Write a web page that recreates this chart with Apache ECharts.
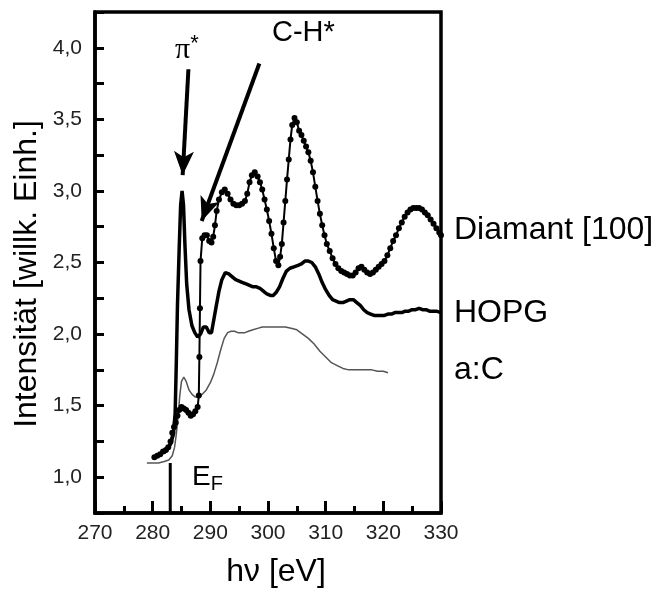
<!DOCTYPE html>
<html><head><meta charset="utf-8">
<script src="https://cdn.jsdelivr.net/npm/echarts@6/dist/echarts.min.js"></script>
<style>html,body{margin:0;padding:0;background:#fff}#c{width:658px;height:589px}</style>
</head><body><div id="c"></div>
<script>
// Diamant [100]
const diamantX = [280.3,280.8,281.3,281.8,282.3,282.7,283.1,283.4,283.7,284.0,284.3,284.6,285.0,285.4,285.8,286.2,286.6,287.0,287.4,287.8,288.0,288.1,288.2,288.3,288.6,289.0,289.4,289.8,290.2,290.5,290.8,291.1,291.5,292.0,292.5,293.0,293.5,294.0,294.5,295.0,295.5,296.0,296.4,296.8,297.2,297.7,298.2,298.6,299.0,299.4,299.8,300.2,300.6,301.0,301.4,301.8,302.1,302.4,302.7,303.0,303.3,303.6,303.9,304.2,304.6,305.0,305.4,305.8,306.2,306.6,307.0,307.4,307.8,308.2,308.6,309.0,309.4,309.8,310.2,310.7,311.2,311.7,312.2,312.7,313.2,313.7,314.2,314.7,315.2,315.7,316.2,316.7,317.2,317.7,318.2,318.7,319.2,319.7,320.2,320.7,321.2,321.7,322.2,322.7,323.2,323.7,324.2,324.7,325.2,325.7,326.2,326.7,327.2,327.7,328.2,328.7,329.2,329.7,330.0];
const diamantY = [1.14,1.15,1.16,1.18,1.19,1.21,1.25,1.31,1.35,1.38,1.43,1.47,1.49,1.48,1.47,1.45,1.43,1.44,1.46,1.49,1.57,1.84,2.18,2.51,2.67,2.69,2.69,2.65,2.64,2.68,2.76,2.86,2.94,2.99,3.01,2.98,2.94,2.91,2.90,2.90,2.91,2.93,2.98,3.06,3.11,3.13,3.10,3.06,3.01,2.94,2.87,2.79,2.70,2.60,2.51,2.48,2.54,2.63,2.78,2.93,3.08,3.22,3.36,3.46,3.51,3.48,3.42,3.39,3.35,3.31,3.27,3.21,3.13,3.03,2.93,2.84,2.76,2.69,2.63,2.58,2.53,2.49,2.46,2.44,2.43,2.42,2.41,2.41,2.43,2.46,2.47,2.45,2.43,2.42,2.43,2.45,2.47,2.49,2.51,2.55,2.60,2.65,2.69,2.74,2.78,2.82,2.85,2.87,2.88,2.88,2.88,2.87,2.85,2.83,2.80,2.77,2.74,2.71,2.69];
// HOPG
const hopgX = [282.0,282.6,283.1,283.6,283.9,284.1,284.3,284.6,284.85,285.1,285.35,285.6,285.9,286.3,286.8,287.3,287.8,288.3,288.8,289.3,289.8,290.2,290.6,291.0,291.5,292.0,292.6,293.2,293.8,294.4,295.0,295.6,296.2,296.8,297.4,298.0,298.6,299.2,299.8,300.4,300.9,301.4,302.0,302.6,303.2,303.8,304.5,305.2,305.8,306.4,307.0,307.6,308.2,308.8,309.4,310.0,310.6,311.2,311.8,312.4,313.0,313.6,314.2,314.8,315.4,316.0,316.6,317.2,317.8,318.4,319.0,319.6,320.2,320.8,321.4,322.0,322.6,323.2,323.8,324.4,325.0,325.6,326.2,326.8,327.4,328.0,328.6,329.2,330.0];
const hopgY = [1.17,1.20,1.23,1.30,1.45,1.80,2.20,2.60,2.90,3.00,2.90,2.62,2.35,2.17,2.06,2.01,1.98,2.00,2.05,2.05,2.01,2.01,2.10,2.19,2.30,2.38,2.43,2.42,2.40,2.38,2.37,2.36,2.35,2.34,2.33,2.33,2.32,2.30,2.28,2.27,2.27,2.29,2.33,2.39,2.44,2.46,2.47,2.48,2.49,2.51,2.51,2.50,2.47,2.42,2.36,2.31,2.27,2.24,2.23,2.22,2.22,2.23,2.24,2.24,2.22,2.20,2.17,2.15,2.14,2.13,2.13,2.13,2.13,2.14,2.14,2.15,2.15,2.15,2.16,2.16,2.17,2.17,2.18,2.17,2.17,2.16,2.16,2.16,2.15];
// a:C
const acX = [279.0,280.0,281.0,282.0,282.8,283.4,283.8,284.1,284.4,284.7,285.0,285.4,285.8,286.3,286.8,287.4,288.0,288.6,289.3,290.0,290.6,291.2,291.8,292.4,293.0,293.6,294.2,294.8,295.4,296.0,296.6,297.4,298.2,299.0,300.0,301.0,302.0,303.0,304.0,305.0,306.0,307.0,308.0,309.0,310.0,311.0,312.0,313.0,314.0,315.0,316.0,317.0,318.0,319.0,320.0,320.8];
const acY = [1.10,1.10,1.10,1.11,1.12,1.15,1.21,1.30,1.42,1.57,1.67,1.70,1.67,1.61,1.58,1.56,1.56,1.58,1.61,1.66,1.72,1.80,1.89,1.97,2.01,2.02,2.02,2.01,2.01,2.01,2.02,2.03,2.04,2.05,2.05,2.05,2.05,2.05,2.04,2.03,2.00,1.97,1.93,1.88,1.84,1.80,1.78,1.76,1.75,1.75,1.75,1.75,1.75,1.74,1.74,1.73];
// Fermi level marker
const efX = [283.05, 283.05];
const efY = [1.10, 0.75];
// tick labels
const yTickValues = [1.0, 1.5, 2.0, 2.5, 3.0, 3.5, 4.0];
const yTickLabels = ['1,0','1,5','2,0','2,5','3,0','3,5','4,0'];
const xTickValues = [270, 280, 290, 300, 310, 320, 330];
const xTickLabels = ['270','280','290','300','310','320','330'];
const seriesNames = ['Diamant [100]', 'HOPG', 'a:C'];

const zip = (xs, ys) => xs.map((x, i) => [x, ys[i]]);
const FONT = 'Liberation Sans, Arial, sans-serif';

const chart = echarts.init(document.getElementById('c'), null, {renderer: 'canvas'});
const arrowStyle = {color: '#000', width: 4, type: 'solid'};
chart.setOption({
  animation: false,
  backgroundColor: '#fff',
  grid: {left: 95, right: 217, top: 12, bottom: 76, show: true, borderColor: '#000', borderWidth: 3.5},
  xAxis: {
    type: 'value', min: 270, max: 330, interval: 10,
    axisLine: {show: true, lineStyle: {color: '#000', width: 3.5}},
    axisTick: {show: true, inside: true, length: 12, lineStyle: {color: '#000', width: 3}},
    minorTick: {show: true, splitNumber: 2, length: 7, lineStyle: {color: '#000', width: 3}},
    splitLine: {show: false},
    axisLabel: {
      margin: 10, color: '#222', fontFamily: FONT, fontSize: 21,
      formatter: v => { const i = xTickValues.findIndex(t => Math.abs(t - v) < 1e-6); return i >= 0 ? xTickLabels[i] : ''; }
    }
  },
  yAxis: {
    type: 'value', min: 0.75, max: 4.25, interval: 0.25,
    axisLine: {show: true, lineStyle: {color: '#000', width: 3.5}},
    axisTick: {show: true, inside: true, length: 9, lineStyle: {color: '#000', width: 3}},
    splitLine: {show: false},
    axisLabel: {
      margin: 13, color: '#222', fontFamily: FONT, fontSize: 21,
      formatter: v => { const i = yTickValues.findIndex(t => Math.abs(t - v) < 1e-6); return i >= 0 ? yTickLabels[i] : ''; }
    }
  },
  series: [
    {
      name: seriesNames[1], type: 'line', data: zip(hopgX, hopgY), showSymbol: false,
      lineStyle: {color: '#000', width: 3.5}, z: 3
    },
    {
      name: seriesNames[2], type: 'line', data: zip(acX, acY), showSymbol: false,
      lineStyle: {color: '#555', width: 1.5}, z: 2
    },
    {
      name: seriesNames[0], type: 'line', data: zip(diamantX, diamantY), showSymbol: true,
      symbol: 'circle', symbolSize: 6, itemStyle: {color: '#000'},
      lineStyle: {color: '#000', width: 2}, z: 4
    },
    {
      name: 'EF', type: 'line', data: zip(efX, efY), showSymbol: false,
      lineStyle: {color: '#000', width: 3}, z: 5,
      markLine: {
        silent: true, animation: false,
        symbol: ['none', 'arrow'], symbolSize: [15, 24],
        label: {show: false},
        lineStyle: arrowStyle,
        data: [
          [{coord: [286.2, 3.85]}, {coord: [285.2, 3.11]}],
          [{coord: [298.5, 3.89]}, {coord: [288.5, 2.79]}]
        ]
      }
    }
  ],
  graphic: [
    {type: 'text', x: 454, y: 230, style: {text: 'Diamant [100]', font: '32px ' + FONT, fill: '#000', textVerticalAlign: 'middle'}},
    {type: 'text', x: 454, y: 313, style: {text: 'HOPG', font: '32px ' + FONT, fill: '#000', textVerticalAlign: 'middle'}},
    {type: 'text', x: 454, y: 370, style: {text: 'a:C', font: '32px ' + FONT, fill: '#000', textVerticalAlign: 'middle'}},
    {type: 'text', x: 272, y: 33, style: {text: 'C-H*', font: '29px ' + FONT, fill: '#000', textVerticalAlign: 'middle'}},
    {type: 'text', x: 175, y: 50, style: {
      text: '{p|π}{s|*}', fill: '#000', textVerticalAlign: 'middle',
      rich: {p: {fontFamily: 'Liberation Serif, serif', fontSize: 30}, s: {fontFamily: FONT, fontSize: 22, padding: [0,0,12,0]}}
    }},
    {type: 'text', x: 192, y: 477, style: {
      text: '{e|E}{f|F}', fill: '#000', textVerticalAlign: 'middle',
      rich: {e: {fontFamily: FONT, fontSize: 28}, f: {fontFamily: FONT, fontSize: 20, padding: [14,0,0,0]}}
    }},
    {type: 'text', x: 276, y: 572, style: {text: 'hν [eV]', font: '32px ' + FONT, fill: '#000', textAlign: 'center', textVerticalAlign: 'middle'}},
    {type: 'text', x: 27, y: 274, rotation: Math.PI / 2, style: {text: 'Intensität [willk. Einh.]', font: '32px ' + FONT, fill: '#000', textAlign: 'center', textVerticalAlign: 'middle'}}
  ]
});
</script>
</body></html>
